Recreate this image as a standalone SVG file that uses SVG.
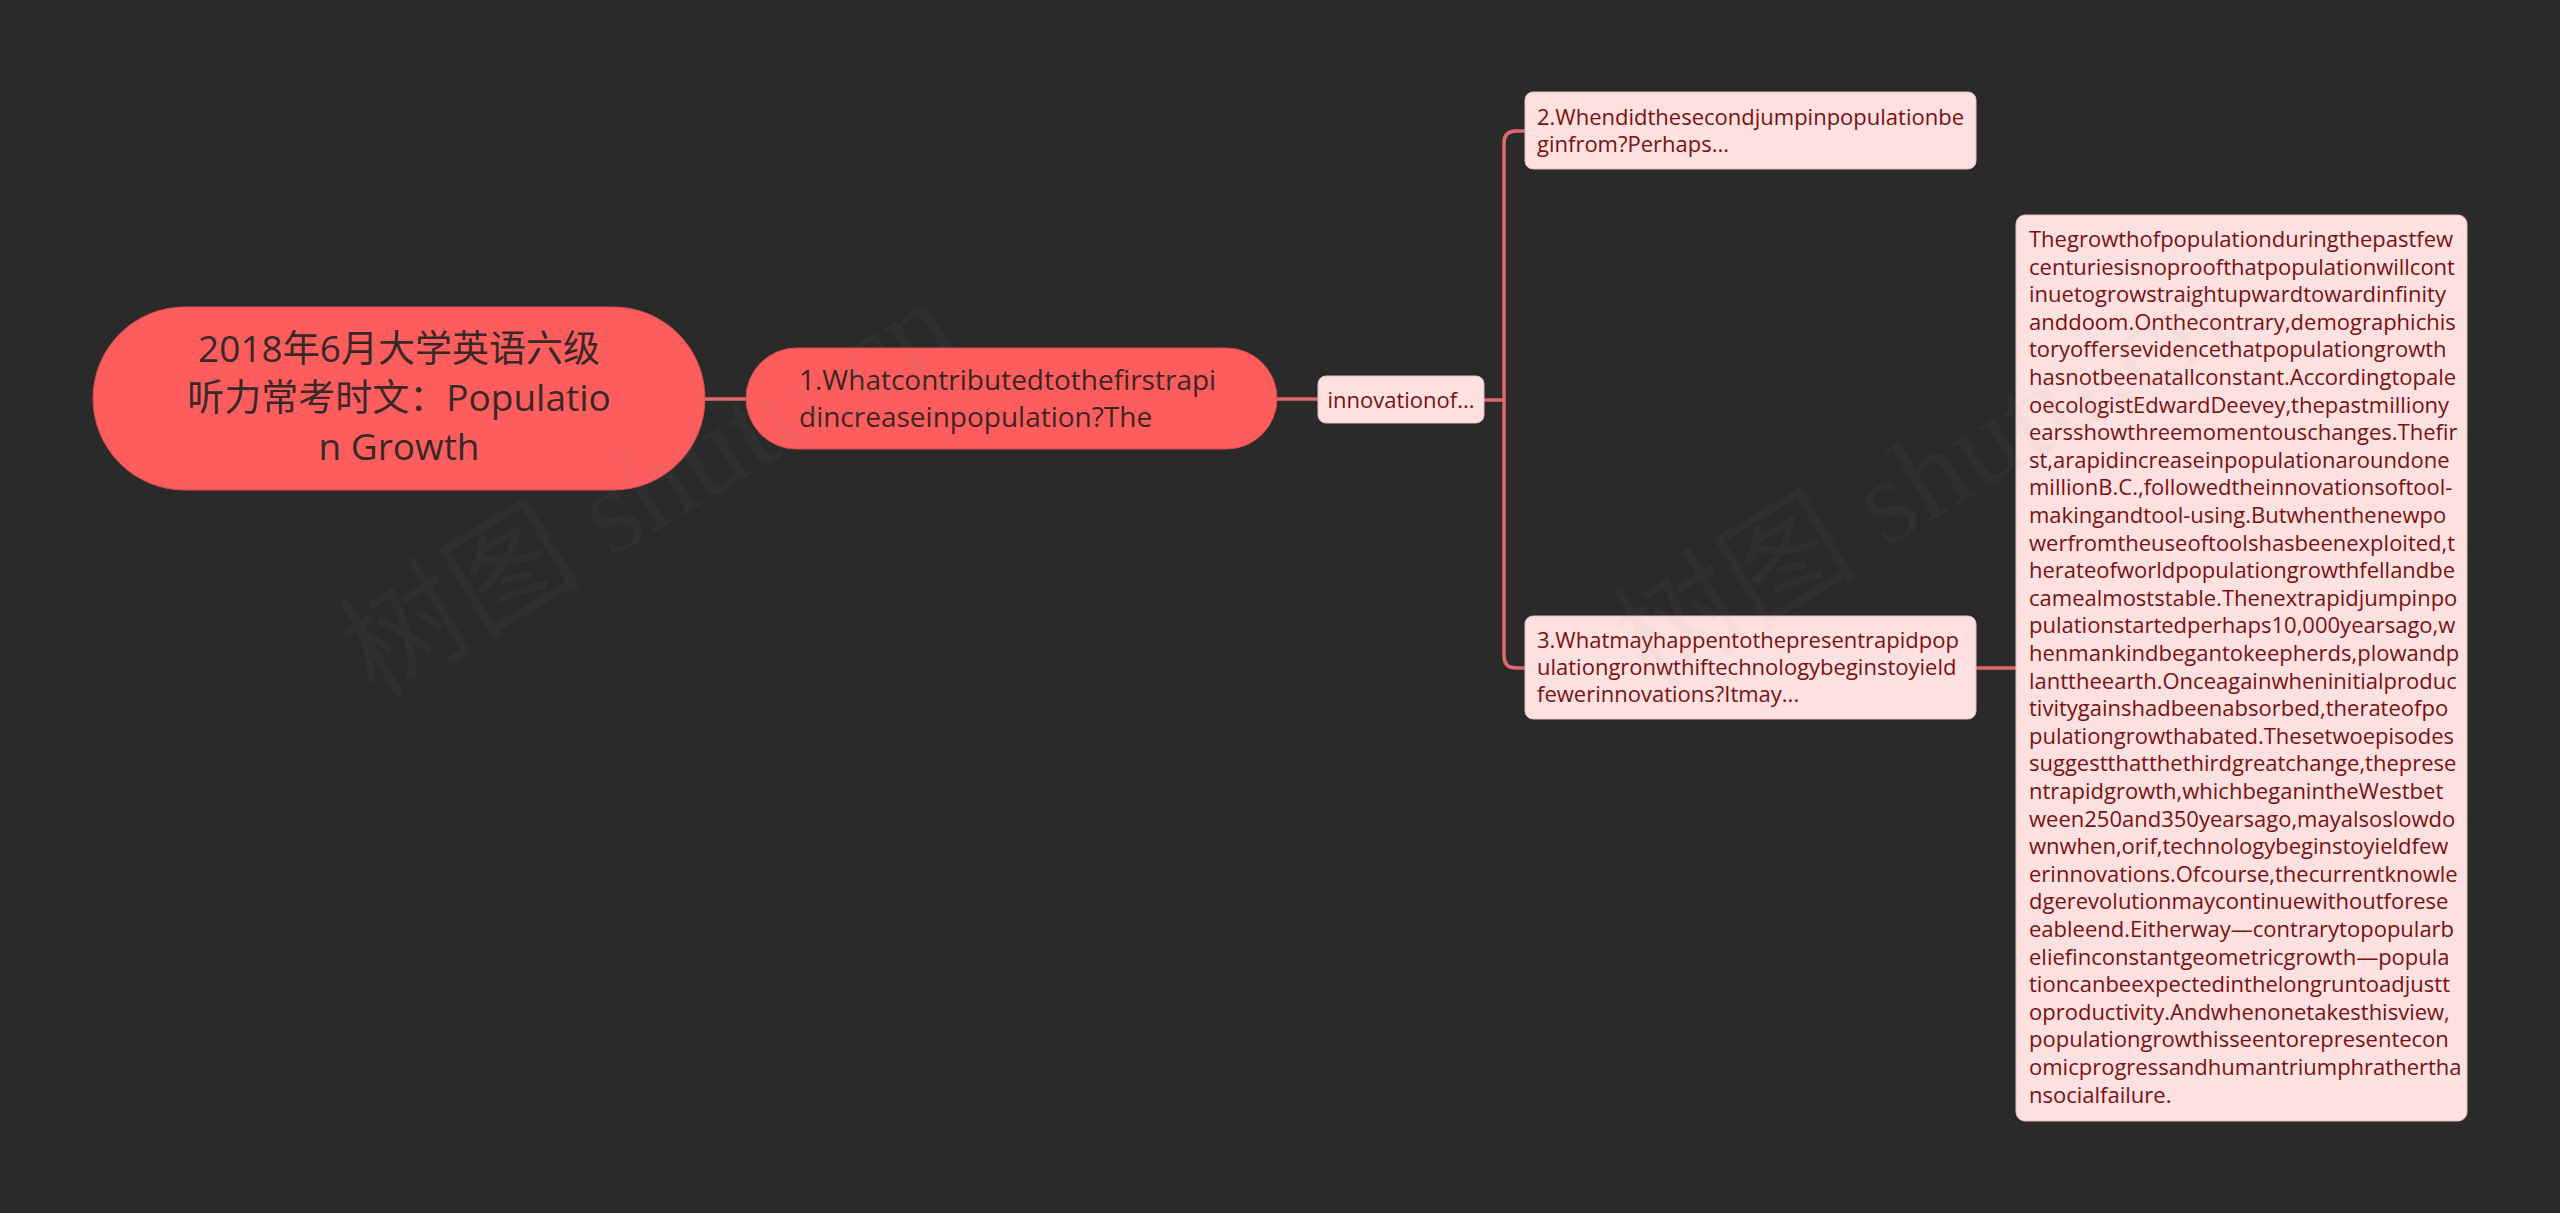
<svg xmlns="http://www.w3.org/2000/svg" width="2560" height="1213" viewBox="0 0 2560 1213">
<style>
.bg{fill:#2a2a2a}
.pill{fill:#fd5d5d;stroke:#d84c4c;stroke-width:1}
.lite{fill:#fde0e0;stroke:#e9bcbc;stroke-width:1}
.conn{fill:none;stroke:#e0676a;stroke-width:3.5;stroke-linecap:round;stroke-linejoin:round}
.rt{font-family:"Open Sans","Noto Sans CJK SC",sans-serif;font-size:37px;fill:#3a2828;text-anchor:middle}
.t1{font-family:"Open Sans","Noto Sans CJK SC",sans-serif;font-size:28px;fill:#402424}
.lt{font-family:"Open Sans","Noto Sans CJK SC",sans-serif;font-size:22px;fill:#7a1010}
.wm{font-family:"Liberation Serif","Noto Sans CJK SC",serif;font-size:122px;fill:#9a9a9a;opacity:0.05}
</style>
<rect class="bg" x="0" y="0" width="2560" height="1213"/>
<g id="connectors">
<path class="conn" d="M705,399 H746"/>
<path class="conn" d="M1277,399 H1318"/>
<path class="conn" d="M1484,400 H1504"/>
<path class="conn" d="M1525,131 H1516 Q1504,131 1504,143 V656 Q1504,668 1516,668 H1525"/>
<path class="conn" d="M1976,668 H2016"/>
</g>
<g id="root">
<rect class="pill" x="93" y="307" width="612" height="183" rx="91.5" ry="91.5"/>
<text class="rt" x="399" y="362">2018年6月大学英语六级</text>
<text class="rt" x="399" y="411">听力常考时文：Populatio</text>
<text class="rt" x="399" y="460">n Growth</text>
</g>
<g id="node1">
<rect class="pill" x="746" y="348" width="531" height="101" rx="50.5" ry="50.5"/>
<text class="t1" x="799" y="390">1.Whatcontributedtothefirstrapi</text>
<text class="t1" x="799" y="427">dincreaseinpopulation?The</text>
</g>
<g id="node-innovation">
<rect class="lite" x="1318" y="376" width="166" height="47" rx="8" ry="8"/>
<text class="lt" x="1401" y="408" text-anchor="middle">innovationof...</text>
</g>
<g id="node2">
<rect class="lite" x="1525" y="92" width="451" height="77" rx="8" ry="8"/>
<text class="lt" x="1537" y="125">2.Whendidthesecondjumpinpopulationbe</text>
<text class="lt" x="1537" y="152">ginfrom?Perhaps...</text>
</g>
<g id="node3">
<rect class="lite" x="1525" y="616" width="451" height="103" rx="8" ry="8"/>
<text class="lt" x="1537" y="648">3.Whatmayhappentothepresentrapidpop</text>
<text class="lt" x="1537" y="675">ulationgronwthiftechnologybeginstoyield</text>
<text class="lt" x="1537" y="702">fewerinnovations?Itmay...</text>
</g>
<g id="node-detail">
<rect class="lite" x="2016" y="215" width="451" height="906" rx="9" ry="9"/>
<text class="lt" x="2029" y="247">
<tspan x="2029" dy="0">Thegrowthofpopulationduringthepastfew</tspan>
<tspan x="2029" dy="27.6">centuriesisnoproofthatpopulationwillcont</tspan>
<tspan x="2029" dy="27.6">inuetogrowstraightupwardtowardinfinity</tspan>
<tspan x="2029" dy="27.6">anddoom.Onthecontrary,demographichis</tspan>
<tspan x="2029" dy="27.6">toryoffersevidencethatpopulationgrowth</tspan>
<tspan x="2029" dy="27.6">hasnotbeenatallconstant.Accordingtopale</tspan>
<tspan x="2029" dy="27.6">oecologistEdwardDeevey,thepastmilliony</tspan>
<tspan x="2029" dy="27.6">earsshowthreemomentouschanges.Thefir</tspan>
<tspan x="2029" dy="27.6">st,arapidincreaseinpopulationaroundone</tspan>
<tspan x="2029" dy="27.6">millionB.C.,followedtheinnovationsoftool-</tspan>
<tspan x="2029" dy="27.6">makingandtool-using.Butwhenthenewpo</tspan>
<tspan x="2029" dy="27.6">werfromtheuseoftoolshasbeenexploited,t</tspan>
<tspan x="2029" dy="27.6">herateofworldpopulationgrowthfellandbe</tspan>
<tspan x="2029" dy="27.6">camealmoststable.Thenextrapidjumpinpo</tspan>
<tspan x="2029" dy="27.6">pulationstartedperhaps10,000yearsago,w</tspan>
<tspan x="2029" dy="27.6">henmankindbegantokeepherds,plowandp</tspan>
<tspan x="2029" dy="27.6">lanttheearth.Onceagainwheninitialproduc</tspan>
<tspan x="2029" dy="27.6">tivitygainshadbeenabsorbed,therateofpo</tspan>
<tspan x="2029" dy="27.6">pulationgrowthabated.Thesetwoepisodes</tspan>
<tspan x="2029" dy="27.6">suggestthatthethirdgreatchange,theprese</tspan>
<tspan x="2029" dy="27.6">ntrapidgrowth,whichbeganintheWestbet</tspan>
<tspan x="2029" dy="27.6">ween250and350yearsago,mayalsoslowdo</tspan>
<tspan x="2029" dy="27.6">wnwhen,orif,technologybeginstoyieldfew</tspan>
<tspan x="2029" dy="27.6">erinnovations.Ofcourse,thecurrentknowle</tspan>
<tspan x="2029" dy="27.6">dgerevolutionmaycontinuewithoutforese</tspan>
<tspan x="2029" dy="27.6">eableend.Eitherway—contrarytopopularb</tspan>
<tspan x="2029" dy="27.6">eliefinconstantgeometricgrowth—popula</tspan>
<tspan x="2029" dy="27.6">tioncanbeexpectedinthelongruntoadjustt</tspan>
<tspan x="2029" dy="27.6">oproductivity.Andwhenonetakesthisview,</tspan>
<tspan x="2029" dy="27.6">populationgrowthisseentorepresentecon</tspan>
<tspan x="2029" dy="27.6">omicprogressandhumantriumphrathertha</tspan>
<tspan x="2029" dy="27.6">nsocialfailure.</tspan>
</text>
</g>
<g id="watermarks">
<text class="wm" transform="translate(375,700) rotate(-31)">树图 shutu.cn</text>
<text class="wm" transform="translate(1650,690) rotate(-31)">树图 shutu.cn</text>
</g>
</svg>
